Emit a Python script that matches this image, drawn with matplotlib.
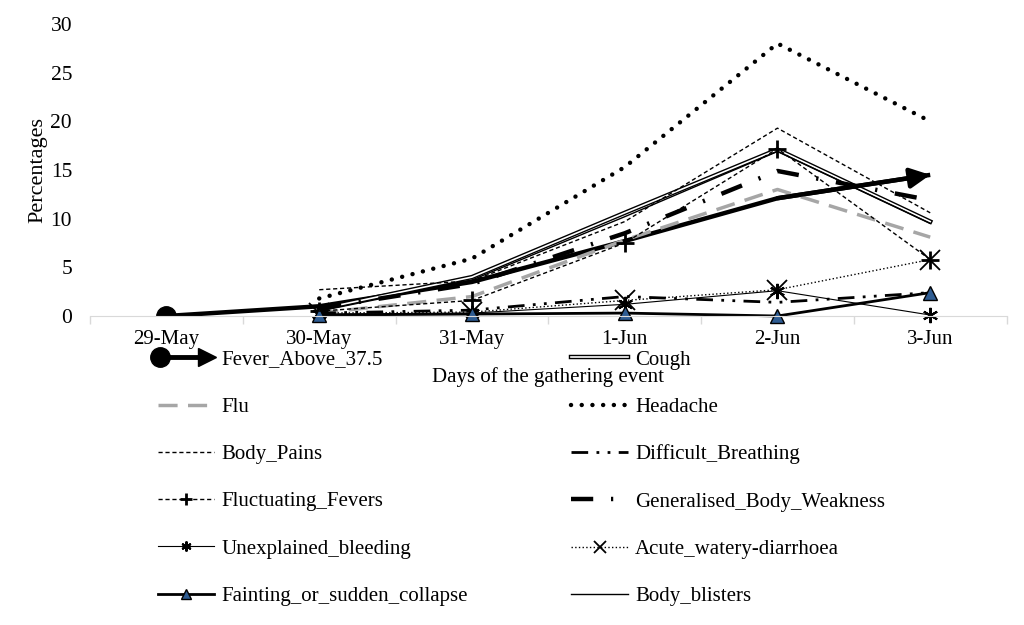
import numpy as np
import matplotlib
matplotlib.use('Agg')
import matplotlib.pyplot as plt
from matplotlib.lines import Line2D
from matplotlib.legend_handler import HandlerBase

plt.rcParams['font.family'] = ['Liberation Serif', 'DejaVu Serif']
plt.rcParams['font.size'] = 15

days = ['29-May', '30-May', '31-May', '1-Jun', '2-Jun', '3-Jun']
nan = np.nan

# percentages per day
fever = [0, 1.0, 3.5, 7.7, 12.1, 14.5]
cough = [nan, 0.7, 4.0, 10.6, 17.1, 9.7]
flu = [nan, 0.3, 2.0, 7.8, 13.0, 8.1]
headache = [nan, 1.8, 5.9, 15.3, 28.0, 20.0]
body_pains = [nan, 2.7, 3.6, 9.7, 19.3, 10.6]
difficult_breathing = [nan, 0.3, 0.6, 2.0, 1.4, 2.4]
fluctuating_fevers = [nan, 0.5, 1.6, 7.5, 17.2, 5.8]
body_weakness = [nan, 0.8, 3.3, 8.5, 14.9, 11.9]
unexplained_bleeding = [nan, 0.2, 0.3, 1.2, 2.6, 0.1]
watery_diarrhoea = [nan, 0.3, 0.4, 1.6, 2.7, 5.8]
fainting = [nan, 0.1, 0.2, 0.3, 0.0, 2.4]
body_blisters = [nan, 0.5, 3.7, 10.2, 16.9, 9.5]


class FeverHandler(HandlerBase):
    # thick line with a dot at the start and an arrow at the end
    def create_artists(self, legend, orig, xdescent, ydescent, width, height, fontsize, trans):
        y = height / 2 - ydescent
        x0, x1 = -xdescent, width - xdescent
        line = Line2D([x0, x1 - 6], [y, y], color='k', lw=3.5)
        dot = Line2D([x0 + 2], [y], marker='o', ms=14, color='k')
        tip = Line2D([x1 - 5], [y], marker='>', ms=13, color='k')
        for a in (line, dot, tip):
            a.set_transform(trans)
        return [line, dot, tip]


fig = plt.figure(figsize=(10.24, 6.25), dpi=100)
ax = fig.add_axes([0.088, 0.4944, 0.895, 0.4672])
x = np.arange(len(days))

h = {}
h['Fever_Above_37.5'], = ax.plot(x, fever, color='k', lw=3.2, solid_capstyle='butt',
                                 marker='o', ms=14, markevery=[0])
ax.annotate('', xy=(x[-1], fever[-1]), xytext=(x[-2], fever[-2]),
            arrowprops=dict(arrowstyle='-|>', color='k', lw=3.2, mutation_scale=30,
                            shrinkA=0, shrinkB=0))

c1, = ax.plot(x, cough, color='k', lw=3.2)
c2, = ax.plot(x, cough, color='white', lw=1.2)
h['Cough'] = (c1, c2)
h['Flu'], = ax.plot(x, flu, color='#a6a6a6', lw=2.5, dashes=(5.5, 3))
h['Headache'], = ax.plot(x, headache, color='k', lw=3.2, dashes=(0.01, 2.4),
                         dash_capstyle='round')
h['Body_Pains'], = ax.plot(x, body_pains, color='k', lw=1.0, dashes=(3, 2))
h['Difficult_Breathing'], = ax.plot(x, difficult_breathing, color='k', lw=2.0,
                                    dashes=(6, 3, 1, 3, 1, 3))
h['Fluctuating_Fevers'], = ax.plot(x, fluctuating_fevers, color='k', lw=1.0, dashes=(3, 2),
                                   marker='+', ms=13, mew=2)
h['Generalised_Body_Weakness'], = ax.plot(x, body_weakness, color='k', lw=3.2,
                                          dashes=(5, 4, 0.5, 4))
h['Unexplained_bleeding'], = ax.plot(x, unexplained_bleeding, color='k', lw=0.8,
                                     marker=(6, 2, 0), ms=11, mew=1.5, clip_on=False)
h['Acute_watery-diarrhoea'], = ax.plot(x, watery_diarrhoea, color='k', lw=1.0, ls=':',
                                       marker='x', ms=14, mew=1.3)
h['Fainting_or_sudden_collapse'], = ax.plot(x, fainting, color='k', lw=2.0, marker='^', ms=10,
                                            mfc='#2e5c92', mec='k', mew=1, clip_on=False)
h['Body_blisters'], = ax.plot(x, body_blisters, color='k', lw=1.0)

ax.set_xlim(-0.5, len(days) - 0.5)
ax.set_ylim(0, 30)
ax.set_yticks(range(0, 31, 5))
ax.set_xticks(x)
ax.set_xticklabels(days)
ax.set_xticks(np.arange(-0.5, len(days), 1), minor=True)
ax.tick_params(axis='x', which='major', length=0, pad=10)
ax.tick_params(axis='x', which='minor', length=6, color='#d9d9d9', width=1)
ax.tick_params(axis='y', length=0, pad=13, labelsize=15.5)
for s in ['top', 'right', 'left']:
    ax.spines[s].set_visible(False)
ax.spines['bottom'].set_color('#d9d9d9')

ax.set_ylabel('Percentages', fontsize=16)
ax.yaxis.set_label_coords(-0.047, 0.5)
ax.set_xlabel('Days of the gathering event')
ax.xaxis.set_label_coords(0.5, -0.176)

names = list(h.keys())
opts = dict(frameon=False, handlelength=2.7, handletextpad=0.35, labelspacing=1.33,
            borderpad=0, borderaxespad=0, loc='upper left', markerscale=0.65,
            handler_map={h['Fever_Above_37.5']: FeverHandler()})
left = names[0::2]
right = names[1::2]
leg1 = fig.legend([h[n] for n in left], left, bbox_to_anchor=(0.154, 0.44), **opts)
leg2 = fig.legend([h[n] for n in right], right, bbox_to_anchor=(0.558, 0.44), **opts)

fig.savefig('out.png', dpi=100)
